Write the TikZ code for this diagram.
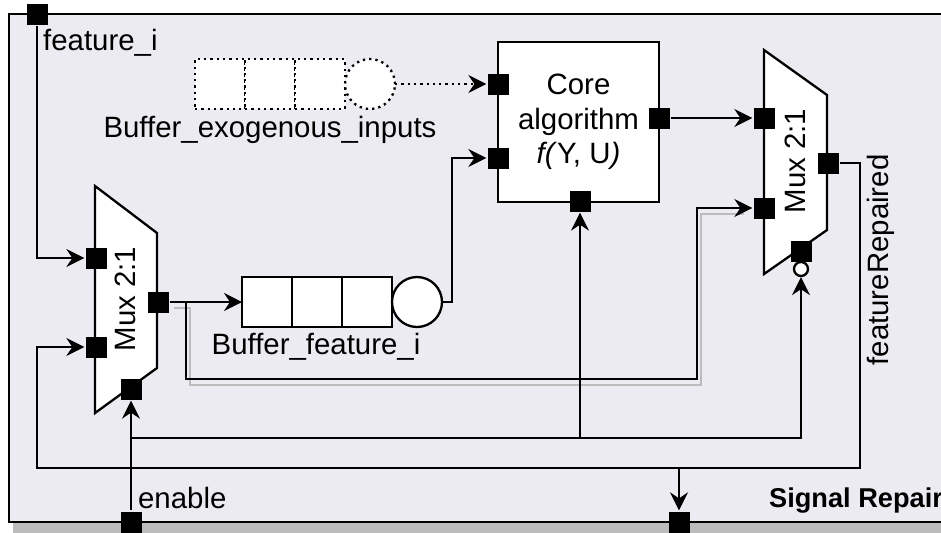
\documentclass[tikz,border=0pt]{standalone}
\usepackage{fontspec}
\setmainfont{Liberation Sans}
\usetikzlibrary{arrows.meta,positioning,calc}
\definecolor{panel}{RGB}{237,235,242}
\definecolor{shadowgray}{RGB}{188,188,188}

\tikzset{
  port/.style={fill=black,draw=none,minimum size=10.5pt,inner sep=0pt},
  cell/.style={draw,fill=white,minimum size=25pt,inner sep=0pt,outer sep=0pt},
  tap/.style={draw,fill=white,circle,minimum size=25pt,inner sep=0pt,outer sep=0pt},
  muxbody/.style={draw,fill=white},
  lbl/.style={inner sep=0pt}
}

\begin{document}
\begin{tikzpicture}[x=0.5pt,y=-0.5pt,line width=1.15pt,
  >={Stealth[length=9pt,width=9pt,inset=3pt]},
  font=\fontsize{14.7}{17.3}\selectfont]
  \useasboundingbox (0,0) rectangle (941,532);
  \clip (0,0) rectangle (941,532);

  % panel
  \fill[shadowgray] (13,22) rectangle (980,545);
  \draw[fill=panel] (9,14) rectangle (970,522);

  % multiplexers
  \draw[muxbody] (95,186) -- (157,233) -- (157,368) -- (95,413) -- cycle;
  \draw[muxbody] (764,50) -- (827,95) -- (827,230) -- (764,274) -- cycle;
  \node[lbl,rotate=90] (muxA) at (125,299) {Mux 2:1};
  \node[lbl,rotate=90] (muxB) at (795,161) {Mux 2:1};

  % core block
  \node[draw,fill=white,minimum width=80.5pt,minimum height=80pt,align=center,
        font=\fontsize{14.7}{17.3}\selectfont] (core) at (578.5,122)
        {Core\\algorithm\\\textit{f(}Y, U\textit{)}};

  % buffer of feature_i
  \node[cell] (bufA) at (267,302) {};
  \node[cell,right=0pt of bufA] (bufB) {};
  \node[cell,right=0pt of bufB] (bufC) {};
  \node[tap,right=0pt of bufC] (bufOut) {};
  \node[lbl,anchor=base] (bufLbl) at (316,354) {Buffer\_feature\_i};

  % buffer of exogenous inputs
  \node[cell,dotted] (exoA) at (220,84) {};
  \node[cell,dotted,right=0pt of exoA] (exoB) {};
  \node[cell,dotted,right=0pt of exoB] (exoC) {};
  \node[tap,dotted,right=0pt of exoC] (exoOut) {};
  \node[lbl,anchor=base] (exoLbl) at (270,137) {Buffer\_exogenous\_inputs};

  % ports
  \node[port] (featIn) at (37,14) {};
  \node[port] (enIn) at (131,522) {};
  \node[port] (repOut) at (679,522) {};
  \node[port] (muxAin1) at (96,258) {};
  \node[port] (muxAin2) at (96,347) {};
  \node[port] (muxAout) at (158,302) {};
  \node[port] (muxAsel) at (131,389) {};
  \node[port] (coreIn1) at (498,84) {};
  \node[port] (coreIn2) at (498,158) {};
  \node[port] (coreOut) at (659,118) {};
  \node[port] (coreSel) at (580,201) {};
  \node[port] (muxBin1) at (764,118) {};
  \node[port] (muxBin2) at (764,208) {};
  \node[port] (muxBout) at (828,163) {};
  \node[port] (muxBsel) at (801,251) {};
  \node[draw,fill=white,circle,minimum size=7pt,inner sep=0pt] (muxBinv) at (801,269) {};

  % signals
  \draw[->] (featIn.south) |- (muxAin1.west);
  \draw[->] (muxAout.east) -- (bufA.west);
  \draw[->] (bufOut.east) -- ++(10,0) |- (coreIn2.west);
  \draw[->,dotted] (exoOut.east) -- (coreIn1.west);
  \draw[->] (coreOut.east) -- (muxBin1.west);

  \draw[shadowgray,transform canvas={xshift=2pt,yshift=-3pt}]
    (muxAout.east) -- (186,302) |- (697,379) |- ($(muxBin2.west)+(-12,0)$);
  \draw[->] (muxAout.east) -- (186,302) |- (697,379) |- (muxBin2.west);

  \coordinate (enBus) at (131,438);
  \draw[->] (enIn.north) -- (muxAsel.south);
  \draw[->] (enBus) -| (coreSel.south);
  \draw[->] (enBus) -| (muxBinv.south);

  \coordinate (repTap) at (679,468);
  \draw[->] (muxBout.east) -- (860,163) |- (37,468) |- (muxAin2.west);
  \draw[->] (repTap) -- (repOut.north);

  % labels
  \node[lbl,anchor=base west] (featLbl) at (42,50) {feature\_i};
  \node[lbl,anchor=base west] (enLbl) at (137,508) {enable};
  \node[lbl,rotate=90] (repLbl) at (881,260) {featureRepaired};
  \node[lbl,anchor=base west,font=\fontsize{13.6}{16}\selectfont\bfseries]
    (title) at (768,507) {Signal Repair};
\end{tikzpicture}
\end{document}
